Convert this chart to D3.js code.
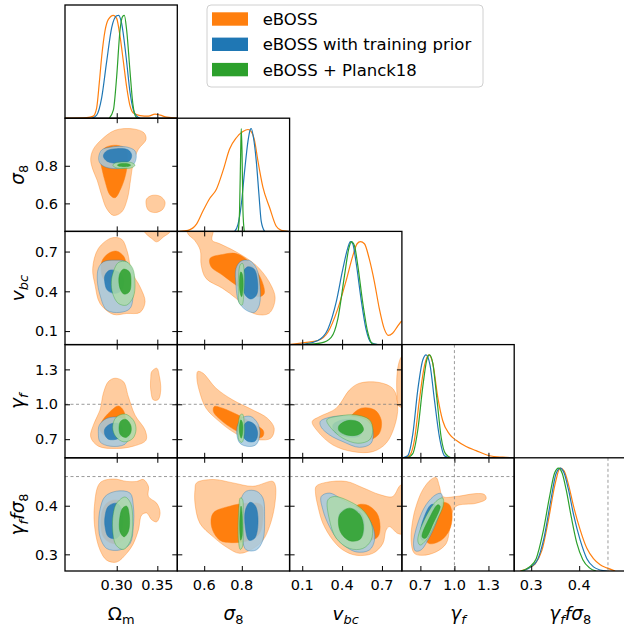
<!DOCTYPE html>
<html><head><meta charset="utf-8">
<script src="https://cdn.jsdelivr.net/npm/d3@7"></script>
<style>body{margin:0;background:#fff}svg{display:block}text{font-family:"DejaVu Sans",sans-serif;fill:#000}</style>
</head><body><svg id="c" width="624" height="629"></svg>
<script>
// ---------------- data ----------------
const seriesNames = ["eBOSS", "eBOSS with training prior", "eBOSS + Planck18"];
const seriesColors = ["#ff7f0e", "#1f77b4", "#2ca02c"];
const params = ["Om", "s8", "vbc", "gf", "gfs8"];
const xDomains = {Om:[0.2363,0.3746], s8:[0.457,1.054], vbc:[0.005,0.850], gf:[0.537,1.527], gfs8:[0.2646,0.4986]};
const yDomains = {s8:[0.451,1.053], vbc:[-0.002,0.852], gf:[0.54,1.513], gfs8:[0.2657,0.4986]};
const tickValues = {Om:[0.30,0.35], s8:[0.6,0.8], vbc:[0.1,0.4,0.7], gf:[0.7,1.0,1.3], gfs8:[0.3,0.4]};
const tickLabels = {Om:["0.30","0.35"], s8:["0.6","0.8"], vbc:["0.1","0.4","0.7"], gf:["0.7","1.0","1.3"], gfs8:["0.3","0.4"]};
const markerValues = {gf:1.0, gfs8:0.46};

// 1D marginals: [value, normalised density] per series (eBOSS, training prior, +Planck18)
const marg_Om = [
  [[0.2363,0],[0.2630,0.005],[0.2712,0.02],[0.2753,0.1],[0.2786,0.35],[0.2815,0.6],[0.2856,0.85],[0.2897,0.96],[0.2959,1.0],[0.2999,0.97],[0.3040,0.8],[0.3082,0.55],[0.3123,0.3],[0.3164,0.12],[0.3205,0.05],[0.3287,0.025],[0.3390,0.02],[0.3472,0.04],[0.3534,0.03],[0.3616,0.01],[0.3746,0]],
  [[0.2692,0],[0.2753,0.03],[0.2815,0.2],[0.2876,0.55],[0.2938,0.88],[0.2999,0.995],[0.3024,1.0],[0.3061,0.92],[0.3115,0.6],[0.3164,0.25],[0.3205,0.08],[0.3246,0.02],[0.3287,0]],
  [[0.2909,0],[0.2959,0.08],[0.2999,0.4],[0.3040,0.85],[0.3073,0.99],[0.3094,1.0],[0.3123,0.85],[0.3164,0.45],[0.3197,0.15],[0.3225,0.03],[0.3254,0]]
];
const marg_s8 = [
  [[0.470,0],[0.514,0.01],[0.559,0.07],[0.594,0.2],[0.629,0.32],[0.665,0.41],[0.700,0.59],[0.735,0.8],[0.771,0.91],[0.806,0.97],[0.833,0.99],[0.850,0.97],[0.868,0.88],[0.886,0.68],[0.912,0.43],[0.948,0.23],[0.983,0.05],[1.010,0.01],[1.045,0]],
  [[0.762,0],[0.780,0.07],[0.797,0.26],[0.815,0.59],[0.833,0.88],[0.845,0.99],[0.850,1.0],[0.862,0.91],[0.877,0.68],[0.891,0.36],[0.903,0.1],[0.921,0]],
  [[0.781,0],[0.788,0.2],[0.794,0.78],[0.797,1.0],[0.801,0.78],[0.806,0.2],[0.813,0]]
];
const marg_vbc = [
  [[0.005,0],[0.118,0.02],[0.218,0.04],[0.293,0.12],[0.368,0.35],[0.430,0.62],[0.480,0.86],[0.513,0.98],[0.538,1.0],[0.568,0.98],[0.605,0.83],[0.643,0.61],[0.680,0.35],[0.718,0.15],[0.748,0.09],[0.780,0.11],[0.818,0.18],[0.848,0.23]],
  [[0.005,0],[0.118,0.006],[0.218,0.04],[0.293,0.15],[0.355,0.41],[0.405,0.73],[0.443,0.94],[0.463,1.0],[0.480,0.98],[0.505,0.8],[0.543,0.44],[0.580,0.15],[0.618,0.02],[0.668,0]],
  [[0.118,0],[0.243,0.016],[0.318,0.07],[0.368,0.25],[0.418,0.67],[0.450,0.93],[0.470,1.0],[0.493,0.96],[0.518,0.77],[0.555,0.41],[0.593,0.12],[0.630,0.006],[0.668,0]]
];
const marg_gf = [
  [[0.559,0],[0.603,0.02],[0.647,0.17],[0.691,0.56],[0.735,0.89],[0.774,1.0],[0.809,0.92],[0.853,0.59],[0.897,0.36],[0.956,0.23],[1.015,0.17],[1.103,0.11],[1.191,0.07],[1.309,0.02],[1.426,0.006],[1.527,0]],
  [[0.544,0],[0.588,0.02],[0.633,0.23],[0.677,0.66],[0.721,0.95],[0.750,1.0],[0.785,0.9],[0.824,0.56],[0.868,0.2],[0.912,0.02],[0.956,0]],
  [[0.588,0],[0.633,0.04],[0.677,0.27],[0.721,0.69],[0.756,0.95],[0.780,1.0],[0.809,0.92],[0.844,0.59],[0.883,0.2],[0.921,0.04],[0.971,0]]
];
const marg_gfs8 = [
  [[0.2771,0],[0.2944,0.03],[0.3083,0.07],[0.3223,0.2],[0.3361,0.5],[0.3500,0.85],[0.3604,1.0],[0.3688,0.97],[0.3777,0.84],[0.3882,0.63],[0.4021,0.4],[0.4160,0.22],[0.4298,0.12],[0.4438,0.06],[0.4577,0.03],[0.4750,0]],
  [[0.2819,0],[0.2993,0.04],[0.3132,0.11],[0.3271,0.33],[0.3410,0.69],[0.3514,0.94],[0.3604,1.0],[0.3688,0.95],[0.3777,0.79],[0.3882,0.55],[0.4021,0.3],[0.4160,0.12],[0.4298,0.04],[0.4438,0.01],[0.4577,0]],
  [[0.2792,0],[0.2965,0.04],[0.3104,0.12],[0.3243,0.37],[0.3382,0.72],[0.3486,0.95],[0.3569,1.0],[0.3646,0.95],[0.3729,0.79],[0.3833,0.53],[0.3951,0.27],[0.4076,0.11],[0.4215,0.03],[0.4354,0]]
];

// 2D contours: s = series index, lvl 0 = 95% (outer), 1 = 68% (inner); pts = [x value, y value]
const cont_s8_Om = [
  {s:0,lvl:0,pts:[[0.2979,0.989],[0.3205,0.996],[0.3336,0.975],[0.3361,0.940],[0.3267,0.888],[0.3205,0.817],[0.3172,0.730],[0.3131,0.624],[0.3061,0.554],[0.2959,0.536],[0.2876,0.572],[0.2815,0.642],[0.2761,0.721],[0.2704,0.782],[0.2679,0.835],[0.2712,0.888],[0.2815,0.940]]},
  {s:0,lvl:0,pts:[[0.3369,0.624],[0.3431,0.642],[0.3534,0.638],[0.3595,0.607],[0.3566,0.568],[0.3472,0.551],[0.3390,0.563],[0.3361,0.598]]},
  {s:0,lvl:1,pts:[[0.2794,0.852],[0.2856,0.896],[0.2999,0.909],[0.3115,0.888],[0.3131,0.817],[0.3106,0.747],[0.3049,0.677],[0.2979,0.630],[0.2917,0.645],[0.2860,0.712],[0.2819,0.782]]},
  {s:1,lvl:0,pts:[[0.2778,0.844],[0.2815,0.884],[0.2938,0.900],[0.3123,0.900],[0.3225,0.879],[0.3238,0.838],[0.3197,0.803],[0.3061,0.786],[0.2876,0.791],[0.2794,0.814]]},
  {s:1,lvl:1,pts:[[0.2835,0.852],[0.2876,0.879],[0.2999,0.891],[0.3143,0.884],[0.3184,0.856],[0.3156,0.826],[0.3020,0.814],[0.2884,0.823]]},
  {s:2,lvl:0,pts:[[0.2951,0.803],[0.2990,0.816],[0.3088,0.8205],[0.3186,0.816],[0.3225,0.803],[0.3186,0.790],[0.3088,0.7855],[0.2990,0.790]]},
  {s:2,lvl:1,pts:[[0.3008,0.8035],[0.3032,0.810],[0.3090,0.8123],[0.3148,0.810],[0.3172,0.8035],[0.3148,0.797],[0.3090,0.7947],[0.3032,0.797]]}
];
const cont_vbc_Om = [
  {s:0,lvl:0,pts:[[0.2938,0.803],[0.3061,0.793],[0.3131,0.698],[0.3184,0.547],[0.3287,0.434],[0.3349,0.321],[0.3287,0.241],[0.3123,0.233],[0.2959,0.226],[0.2794,0.309],[0.2733,0.447],[0.2704,0.572],[0.2774,0.723]]},
  {s:0,lvl:0,pts:[[0.3328,0.89],[0.3657,0.89],[0.3657,0.85],[0.3575,0.81],[0.3493,0.773],[0.3431,0.798],[0.3340,0.85]]},
  {s:0,lvl:1,pts:[[0.2815,0.622],[0.2897,0.685],[0.2999,0.703],[0.3090,0.660],[0.3115,0.572],[0.3082,0.472],[0.2979,0.447],[0.2835,0.497]]},
  {s:1,lvl:0,pts:[[0.2774,0.572],[0.2835,0.622],[0.2979,0.635],[0.3123,0.622],[0.3197,0.547],[0.3205,0.397],[0.3164,0.271],[0.3040,0.241],[0.2876,0.259],[0.2794,0.372],[0.2761,0.484]]},
  {s:1,lvl:1,pts:[[0.2856,0.522],[0.2917,0.560],[0.3020,0.547],[0.3082,0.497],[0.3061,0.409],[0.2979,0.384],[0.2884,0.409],[0.2852,0.472]]},
  {s:2,lvl:0,pts:[[0.2959,0.547],[0.3020,0.617],[0.3123,0.622],[0.3197,0.572],[0.3225,0.459],[0.3205,0.359],[0.3123,0.296],[0.3020,0.309],[0.2950,0.384],[0.2934,0.472]]},
  {s:2,lvl:1,pts:[[0.3032,0.522],[0.3082,0.567],[0.3156,0.547],[0.3176,0.472],[0.3156,0.397],[0.3090,0.379],[0.3040,0.422]]}
];
const cont_gf_Om = [
  {s:0,lvl:0,pts:[[0.2979,1.224],[0.3082,1.195],[0.3143,1.066],[0.3225,0.907],[0.3349,0.778],[0.3361,0.692],[0.3205,0.640],[0.2999,0.620],[0.2774,0.640],[0.2679,0.720],[0.2720,0.835],[0.2794,0.950],[0.2835,1.094],[0.2897,1.195]]},
  {s:0,lvl:0,pts:[[0.3431,1.281],[0.3493,1.310],[0.3526,1.238],[0.3542,1.123],[0.3513,1.042],[0.3452,1.037],[0.3419,1.123],[0.3419,1.224]]},
  {s:0,lvl:1,pts:[[0.2815,0.850],[0.2917,0.936],[0.3020,0.985],[0.3090,0.936],[0.3102,0.806],[0.3040,0.720],[0.2876,0.720],[0.2794,0.778]]},
  {s:1,lvl:0,pts:[[0.2786,0.821],[0.2876,0.878],[0.3040,0.887],[0.3143,0.850],[0.3164,0.749],[0.3102,0.657],[0.2917,0.640],[0.2794,0.677],[0.2774,0.749]]},
  {s:1,lvl:1,pts:[[0.2856,0.792],[0.2938,0.835],[0.3040,0.829],[0.3073,0.763],[0.3020,0.706],[0.2897,0.700],[0.2852,0.743]]},
  {s:2,lvl:0,pts:[[0.2950,0.801],[0.2991,0.887],[0.3102,0.916],[0.3205,0.864],[0.3238,0.784],[0.3197,0.706],[0.3090,0.677],[0.2991,0.720]]},
  {s:2,lvl:1,pts:[[0.3028,0.792],[0.3049,0.855],[0.3115,0.870],[0.3172,0.821],[0.3172,0.755],[0.3115,0.715],[0.3049,0.735]]}
];
const cont_gfs8_Om = [
  {s:0,lvl:0,pts:[[0.2794,0.447],[0.2959,0.455],[0.3123,0.450],[0.3246,0.450],[0.3328,0.454],[0.3390,0.440],[0.3390,0.419],[0.3493,0.405],[0.3534,0.385],[0.3493,0.367],[0.3431,0.371],[0.3369,0.385],[0.3308,0.381],[0.3267,0.350],[0.3205,0.322],[0.3123,0.302],[0.2999,0.284],[0.2876,0.288],[0.2794,0.309],[0.2733,0.350],[0.2725,0.399]]},
  {s:0,lvl:1,pts:[[0.2815,0.385],[0.2876,0.405],[0.2979,0.412],[0.3082,0.405],[0.3123,0.371],[0.3082,0.329],[0.2959,0.322],[0.2835,0.336]]},
  {s:1,lvl:0,pts:[[0.2794,0.392],[0.2856,0.419],[0.2999,0.430],[0.3164,0.426],[0.3205,0.399],[0.3205,0.357],[0.3164,0.322],[0.3040,0.309],[0.2876,0.312],[0.2794,0.336],[0.2778,0.364]]},
  {s:1,lvl:1,pts:[[0.2856,0.378],[0.2897,0.399],[0.2999,0.405],[0.3061,0.392],[0.3061,0.350],[0.2999,0.333],[0.2897,0.336],[0.2856,0.357]]},
  {s:2,lvl:0,pts:[[0.2959,0.385],[0.2999,0.405],[0.3102,0.418],[0.3172,0.405],[0.3197,0.371],[0.3172,0.329],[0.3082,0.310],[0.2991,0.319],[0.2950,0.350]]},
  {s:2,lvl:1,pts:[[0.3040,0.378],[0.3073,0.395],[0.3123,0.399],[0.3156,0.378],[0.3143,0.347],[0.3090,0.336],[0.3040,0.347]]}
];
const cont_vbc_s8 = [
  {s:0,lvl:0,pts:[[0.513,0.88],[0.646,0.88],[0.642,0.785],[0.681,0.760],[0.769,0.698],[0.875,0.597],[0.945,0.472],[0.977,0.347],[0.945,0.234],[0.875,0.227],[0.822,0.272],[0.769,0.347],[0.698,0.422],[0.610,0.497],[0.584,0.597],[0.579,0.710],[0.549,0.785],[0.513,0.835]]},
  {s:0,lvl:1,pts:[[0.631,0.648],[0.698,0.678],[0.769,0.685],[0.840,0.622],[0.901,0.497],[0.919,0.384],[0.893,0.359],[0.840,0.384],[0.769,0.447],[0.698,0.522],[0.637,0.585]]},
  {s:1,lvl:0,pts:[[0.769,0.572],[0.795,0.627],[0.840,0.632],[0.878,0.572],[0.896,0.447],[0.893,0.296],[0.866,0.241],[0.822,0.259],[0.783,0.322],[0.769,0.447]]},
  {s:1,lvl:1,pts:[[0.808,0.547],[0.831,0.585],[0.866,0.567],[0.884,0.472],[0.878,0.372],[0.848,0.342],[0.818,0.372],[0.804,0.459]]},
  {s:2,lvl:0,pts:[[0.783,0.522],[0.792,0.602],[0.804,0.610],[0.813,0.535],[0.811,0.397],[0.801,0.296],[0.787,0.309],[0.781,0.409]]},
  {s:2,lvl:1,pts:[[0.788,0.497],[0.795,0.547],[0.804,0.522],[0.806,0.409],[0.799,0.359],[0.790,0.397]]}
];
const cont_gf_s8 = [
  {s:0,lvl:0,pts:[[0.566,1.282],[0.593,1.268],[0.663,1.138],[0.751,1.038],[0.857,0.952],[0.936,0.880],[0.972,0.794],[0.954,0.708],[0.892,0.694],[0.822,0.708],[0.751,0.765],[0.681,0.851],[0.610,0.966],[0.575,1.110],[0.561,1.225]]},
  {s:0,lvl:1,pts:[[0.654,0.981],[0.698,0.966],[0.778,0.909],[0.857,0.837],[0.915,0.771],[0.910,0.722],[0.857,0.708],[0.778,0.765],[0.698,0.851],[0.649,0.937]]},
  {s:1,lvl:0,pts:[[0.778,0.823],[0.804,0.886],[0.848,0.895],[0.884,0.837],[0.896,0.751],[0.878,0.657],[0.840,0.637],[0.790,0.665],[0.773,0.751]]},
  {s:1,lvl:1,pts:[[0.808,0.808],[0.831,0.851],[0.866,0.828],[0.884,0.751],[0.871,0.685],[0.834,0.680],[0.808,0.722]]},
  {s:2,lvl:0,pts:[[0.781,0.823],[0.792,0.909],[0.804,0.915],[0.813,0.823],[0.811,0.722],[0.801,0.673],[0.787,0.685],[0.779,0.751]]},
  {s:2,lvl:1,pts:[[0.788,0.823],[0.795,0.866],[0.804,0.837],[0.804,0.751],[0.797,0.708],[0.788,0.751]]}
];
const cont_gfs8_s8 = [
  {s:0,lvl:0,pts:[[0.559,0.447],[0.648,0.454],[0.753,0.447],[0.859,0.440],[0.965,0.450],[0.979,0.440],[0.974,0.399],[0.947,0.357],[0.912,0.329],[0.859,0.312],[0.789,0.302],[0.718,0.315],[0.648,0.336],[0.577,0.364],[0.551,0.405],[0.551,0.433]]},
  {s:0,lvl:1,pts:[[0.648,0.385],[0.736,0.399],[0.824,0.405],[0.903,0.402],[0.912,0.371],[0.894,0.343],[0.841,0.329],[0.753,0.324],[0.683,0.329],[0.639,0.357]]},
  {s:1,lvl:0,pts:[[0.798,0.416],[0.824,0.430],[0.877,0.430],[0.912,0.416],[0.921,0.378],[0.912,0.329],[0.877,0.309],[0.824,0.309],[0.803,0.329],[0.792,0.378]]},
  {s:1,lvl:1,pts:[[0.820,0.392],[0.845,0.407],[0.873,0.399],[0.886,0.364],[0.868,0.333],[0.838,0.329],[0.818,0.357]]},
  {s:2,lvl:0,pts:[[0.785,0.399],[0.792,0.416],[0.803,0.414],[0.806,0.371],[0.803,0.315],[0.792,0.310],[0.782,0.329]]},
  {s:2,lvl:1,pts:[[0.790,0.378],[0.796,0.399],[0.801,0.385],[0.801,0.336],[0.794,0.329],[0.789,0.350]]}
];
const cont_gf_vbc = [
  {s:0,lvl:0,pts:[[0.175,0.851],[0.230,0.894],[0.356,0.966],[0.456,1.124],[0.531,1.181],[0.681,1.187],[0.786,1.130],[0.819,0.981],[0.794,0.809],[0.731,0.665],[0.631,0.593],[0.481,0.593],[0.331,0.650],[0.218,0.765]]},
  {s:0,lvl:0,pts:[[0.811,1.124],[0.821,1.325],[0.849,1.411],[0.87,1.411],[0.87,0.981],[0.830,0.981]]},
  {s:0,lvl:1,pts:[[0.456,0.880],[0.543,0.966],[0.644,0.952],[0.694,0.866],[0.681,0.751],[0.606,0.694],[0.506,0.722],[0.443,0.794]]},
  {s:1,lvl:0,pts:[[0.235,0.851],[0.305,0.888],[0.456,0.900],[0.581,0.866],[0.631,0.780],[0.618,0.665],[0.531,0.630],[0.406,0.679],[0.305,0.737],[0.243,0.803]]},
  {s:1,lvl:1,pts:[[0.331,0.823],[0.406,0.866],[0.506,0.860],[0.556,0.794],[0.531,0.728],[0.431,0.722],[0.343,0.765]]},
  {s:2,lvl:0,pts:[[0.285,0.866],[0.381,0.900],[0.506,0.908],[0.606,0.866],[0.631,0.780],[0.606,0.694],[0.518,0.665],[0.406,0.708],[0.318,0.794]]},
  {s:2,lvl:1,pts:[[0.376,0.815],[0.443,0.860],[0.531,0.843],[0.561,0.780],[0.518,0.737],[0.431,0.737],[0.376,0.774]]}
];
const cont_gfs8_vbc = [
  {s:0,lvl:0,pts:[[0.205,0.440],[0.280,0.448],[0.431,0.450],[0.556,0.437],[0.681,0.423],[0.781,0.419],[0.831,0.440],[0.87,0.447],[0.87,0.343],[0.819,0.343],[0.756,0.357],[0.731,0.350],[0.706,0.322],[0.631,0.302],[0.506,0.298],[0.406,0.309],[0.331,0.329],[0.255,0.364],[0.218,0.399],[0.200,0.426]]},
  {s:0,lvl:1,pts:[[0.506,0.399],[0.581,0.402],[0.661,0.385],[0.686,0.357],[0.669,0.336],[0.606,0.329],[0.531,0.336]]},
  {s:1,lvl:0,pts:[[0.243,0.419],[0.305,0.426],[0.406,0.412],[0.556,0.388],[0.631,0.357],[0.644,0.329],[0.606,0.309],[0.506,0.305],[0.381,0.326],[0.305,0.357],[0.255,0.392]]},
  {s:1,lvl:1,pts:[[0.381,0.385],[0.456,0.395],[0.543,0.385],[0.568,0.357],[0.543,0.333],[0.456,0.329],[0.393,0.350]]},
  {s:2,lvl:0,pts:[[0.293,0.412],[0.343,0.419],[0.456,0.409],[0.568,0.388],[0.626,0.357],[0.618,0.329],[0.556,0.312],[0.456,0.312],[0.356,0.333],[0.305,0.371]]},
  {s:2,lvl:1,pts:[[0.381,0.381],[0.456,0.395],[0.536,0.381],[0.561,0.354],[0.536,0.331],[0.456,0.328],[0.386,0.347]]}
];
const cont_gfs8_gf = [
  {s:0,lvl:0,pts:[[0.662,0.399],[0.721,0.433],[0.794,0.454],[0.838,0.458],[0.868,0.440],[0.897,0.419],[1.015,0.419],[1.191,0.425],[1.265,0.423],[1.279,0.414],[1.191,0.405],[1.015,0.399],[0.971,0.378],[0.956,0.350],[0.927,0.322],[0.838,0.305],[0.721,0.298],[0.647,0.302],[0.618,0.329],[0.633,0.371]]},
  {s:0,lvl:1,pts:[[0.735,0.367],[0.809,0.395],[0.897,0.407],[0.956,0.402],[0.980,0.378],[0.956,0.350],[0.883,0.329],[0.780,0.322],[0.727,0.336]]},
  {s:1,lvl:0,pts:[[0.639,0.322],[0.677,0.364],[0.750,0.402],[0.838,0.423],[0.883,0.425],[0.891,0.405],[0.838,0.364],[0.765,0.329],[0.706,0.309],[0.656,0.307]]},
  {s:1,lvl:1,pts:[[0.697,0.343],[0.735,0.378],[0.794,0.402],[0.833,0.401],[0.815,0.371],[0.756,0.336],[0.715,0.329]]},
  {s:2,lvl:0,pts:[[0.677,0.329],[0.735,0.371],[0.838,0.409],[0.897,0.416],[0.903,0.402],[0.838,0.367],[0.750,0.329],[0.697,0.319]]},
  {s:2,lvl:1,pts:[[0.715,0.336],[0.780,0.375],[0.853,0.402],[0.874,0.399],[0.815,0.364],[0.744,0.333]]}
];

const marginals = {Om:marg_Om, s8:marg_s8, vbc:marg_vbc, gf:marg_gf, gfs8:marg_gfs8};
const contours = {
  "Om|s8":cont_s8_Om, "Om|vbc":cont_vbc_Om, "Om|gf":cont_gf_Om, "Om|gfs8":cont_gfs8_Om,
  "s8|vbc":cont_vbc_s8, "s8|gf":cont_gf_s8, "s8|gfs8":cont_gfs8_s8,
  "vbc|gf":cont_gf_vbc, "vbc|gfs8":cont_gfs8_vbc, "gf|gfs8":cont_gfs8_gf
};
const axisLabels = {
  Om:[{t:"Ω"},{t:"m",sub:true}],
  s8:[{t:"σ",it:true},{t:"8",sub:true}],
  vbc:[{t:"v",it:true},{t:"bc",sub:true,it:true}],
  gf:[{t:"γ",it:true},{t:"f",sub:true,it:true}],
  gfs8:[{t:"γ",it:true},{t:"f",sub:true,it:true},{t:"fσ",it:true},{t:"8",sub:true}]
};

// ---------------- layout ----------------
const colLeft = [65, 177.3, 289.6, 401.9, 514.2], cw = 112.3;
const rowTop = [5, 118.2, 231.4, 344.6, 457.8], rh = 113.2;
const tickLen = 5;
const tickFont = 14.5, labelFont = 18.5;
const svg = d3.select("#c");
const defs = svg.append("defs");
const lightOf = c => d3.interpolateRgb(c, "#ffffff")(0.6);

function addLabel(sel, parts, size) {
  const subSize = size * 0.7, shift = size * 0.2;
  let inSub = false;
  parts.forEach(p => {
    const ts = sel.append("tspan").text(p.t).attr("font-size", p.sub ? subSize : size);
    if (p.it) ts.attr("font-style", "oblique");
    if (p.sub && !inSub) { ts.attr("dy", shift); inSub = true; }
    else if (!p.sub && inSub) { ts.attr("dy", -shift); inSub = false; }
  });
}

const n = params.length;
for (let r = 0; r < n; r++) {
  for (let c = 0; c <= r; c++) {
    const px = params[c], py = params[r];
    const g = svg.append("g").attr("transform", `translate(${colLeft[c]},${rowTop[r]})`);
    const clipId = `clip${r}${c}`;
    defs.append("clipPath").attr("id", clipId).append("rect").attr("width", cw).attr("height", rh);
    const x = d3.scaleLinear().domain(xDomains[px]).range([0, cw]);
    const inner = g.append("g").attr("clip-path", `url(#${clipId})`);
    const styleTicks = a => { a.select(".domain").remove(); a.selectAll("line").attr("stroke", "#000").attr("stroke-width", 1); };
    let y;
    if (r === c) {
      y = d3.scaleLinear().domain([0, 1.1]).range([rh, 0]);
      const line = d3.line().x(d => x(d[0])).y(d => y(d[1])).curve(d3.curveMonotoneX);
      marginals[px].forEach((ser, i) => {
        inner.append("path").attr("d", line(ser)).attr("fill", "none")
          .attr("stroke", seriesColors[i]).attr("stroke-width", 1.2);
      });
      if (markerValues[px] !== undefined) {
        inner.append("line").attr("x1", x(markerValues[px])).attr("x2", x(markerValues[px]))
          .attr("y1", 0).attr("y2", rh).attr("stroke", "#808080").attr("stroke-width", 0.8).attr("stroke-dasharray", "3,2.5");
      }
      g.append("g").attr("transform", `translate(0,${rh})`)
        .call(d3.axisBottom(x).tickValues(tickValues[px]).tickSize(-tickLen).tickFormat("")).call(styleTicks);
    } else {
      y = d3.scaleLinear().domain(yDomains[py]).range([rh, 0]);
      const line = d3.line().x(d => x(d[0])).y(d => y(d[1])).curve(d3.curveCatmullRomClosed.alpha(0.5));
      contours[px + "|" + py].forEach(ct => {
        const col = seriesColors[ct.s];
        const fill = ct.lvl === 0 ? lightOf(col) : col;
        inner.append("path").attr("d", line(ct.pts))
          .attr("fill", fill).attr("fill-opacity", ct.s === 0 ? 1 : 0.85)
          .attr("stroke", col).attr("stroke-opacity", ct.lvl === 0 ? 0.45 : 0.6)
          .attr("stroke-width", 0.8);
      });
      if (markerValues[px] !== undefined) {
        inner.append("line").attr("x1", x(markerValues[px])).attr("x2", x(markerValues[px]))
          .attr("y1", 0).attr("y2", rh).attr("stroke", "#808080").attr("stroke-width", 0.8).attr("stroke-dasharray", "3,2.5");
      }
      if (markerValues[py] !== undefined) {
        inner.append("line").attr("y1", y(markerValues[py])).attr("y2", y(markerValues[py]))
          .attr("x1", 0).attr("x2", cw).attr("stroke", "#808080").attr("stroke-width", 0.8).attr("stroke-dasharray", "3,2.5");
      }
      g.append("g").attr("transform", `translate(0,${rh})`).call(d3.axisBottom(x).tickValues(tickValues[px]).tickSize(-tickLen).tickFormat("")).call(styleTicks);
      g.append("g").call(d3.axisTop(x).tickValues(tickValues[px]).tickSize(-tickLen).tickFormat("")).call(styleTicks);
      g.append("g").call(d3.axisLeft(y).tickValues(tickValues[py]).tickSize(-tickLen).tickFormat("")).call(styleTicks);
      g.append("g").attr("transform", `translate(${cw},0)`).call(d3.axisRight(y).tickValues(tickValues[py]).tickSize(-tickLen).tickFormat("")).call(styleTicks);
      if (c === 0) {
        tickValues[py].forEach((v, i) => {
          g.append("text").attr("x", -7).attr("y", y(v) + 5.2).attr("text-anchor", "end")
            .attr("font-size", tickFont).text(tickLabels[py][i]);
        });
      }
    }
    if (r === n - 1) {
      tickValues[px].forEach((v, i) => {
        g.append("text").attr("x", x(v)).attr("y", rh + 19.5).attr("text-anchor", "middle")
          .attr("font-size", tickFont).text(tickLabels[px][i]);
      });
      const lab = g.append("text").attr("x", cw / 2).attr("y", rh + 49).attr("text-anchor", "middle").attr("font-size", labelFont);
      addLabel(lab, axisLabels[px], labelFont);
    }
    if (c === 0 && r > 0) {
      const lab = svg.append("text").attr("transform", `translate(24,${rowTop[r] + rh / 2}) rotate(-90)`)
        .attr("text-anchor", "middle").attr("font-size", labelFont);
      addLabel(lab, axisLabels[py], labelFont);
    }
    g.append("rect").attr("width", cw).attr("height", rh).attr("fill", "none")
      .attr("stroke", "#000").attr("stroke-width", 1.3);
  }
}

// ---------------- legend ----------------
const leg = svg.append("g");
leg.append("rect").attr("x", 207).attr("y", 5).attr("width", 276).attr("height", 82).attr("rx", 4)
  .attr("fill", "#fff").attr("fill-opacity", 0.8).attr("stroke", "#d0d0d0").attr("stroke-width", 1);
seriesNames.forEach((name, i) => {
  const cy = 19 + i * 25.3;
  leg.append("rect").attr("x", 212).attr("y", cy - 6.7).attr("width", 36).attr("height", 13.4).attr("fill", seriesColors[i]);
  leg.append("text").attr("x", 262.7).attr("y", cy + 6).attr("font-size", 16.5).text(name);
});
</script></body></html>
